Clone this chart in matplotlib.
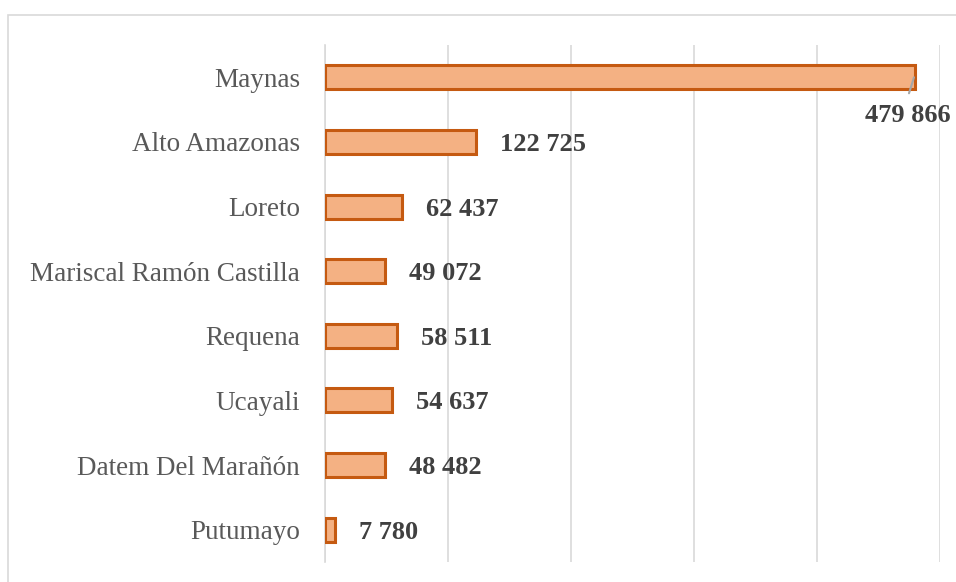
import matplotlib.pyplot as plt
from matplotlib.patches import Rectangle

provinces = ['Maynas', 'Alto Amazonas', 'Loreto', 'Mariscal Ramón Castilla',
             'Requena', 'Ucayali', 'Datem Del Marañón', 'Putumayo']
population = [479866, 122725, 62437, 49072, 58511, 54637, 48482, 7780]
labels = ['479 866', '122 725', '62 437', '49 072', '58 511', '54 637', '48 482', '7 780']

plt.rcParams['font.family'] = ['Liberation Serif', 'DejaVu Serif']

fig = plt.figure(figsize=(9.56, 5.82), dpi=100)
ax = fig.add_axes([325/956, 20/582, 615/956, 517/582])

# outer chart border
fig.patches.append(Rectangle((8/956, -0.1), 1.2, 1.1 - 15/582, transform=fig.transFigure,
                             fill=False, edgecolor='#D9D9D9', linewidth=1.2))

y = range(len(provinces))
ax.barh(y, population, height=0.37, color='#F4B183', edgecolor='#C55A11', linewidth=2.2, zorder=3)

ax.set_xlim(0, 500000)
ax.set_ylim(len(provinces) - 0.5, -0.5)
ax.set_xticks(range(0, 500001, 100000))
ax.grid(axis='x', color='#D9D9D9', linewidth=1.2, zorder=0)
ax.tick_params(axis='x', length=0, labelbottom=False)
ax.tick_params(axis='y', length=0, pad=18)
ax.set_yticks(list(y))
ax.set_yticklabels(provinces, fontsize=19.5, color='#595959')
for s in ['top', 'right', 'bottom']:
    ax.spines[s].set_visible(False)
ax.spines['left'].set_color('#D9D9D9')
ax.spines['left'].set_linewidth(1.2)

for i, (v, lab) in enumerate(zip(population, labels)):
    if i == 0:
        ax.annotate(lab, xy=(v - 1000, i), xytext=(951, 582 - 113), textcoords='figure pixels',
                    ha='right', va='center_baseline', fontsize=19, fontweight='bold', color='#404040',
                    arrowprops=dict(arrowstyle='-', color='#A6A6A6', lw=1.5, shrinkA=6,
                                    shrinkB=0, relpos=(0.47, 1.0)))
    else:
        ax.annotate(lab, xy=(v, i), xytext=(24, 0), textcoords='offset pixels',
                    ha='left', va='center_baseline', fontsize=19, fontweight='bold', color='#404040')

fig.savefig('out.png', dpi=100)
